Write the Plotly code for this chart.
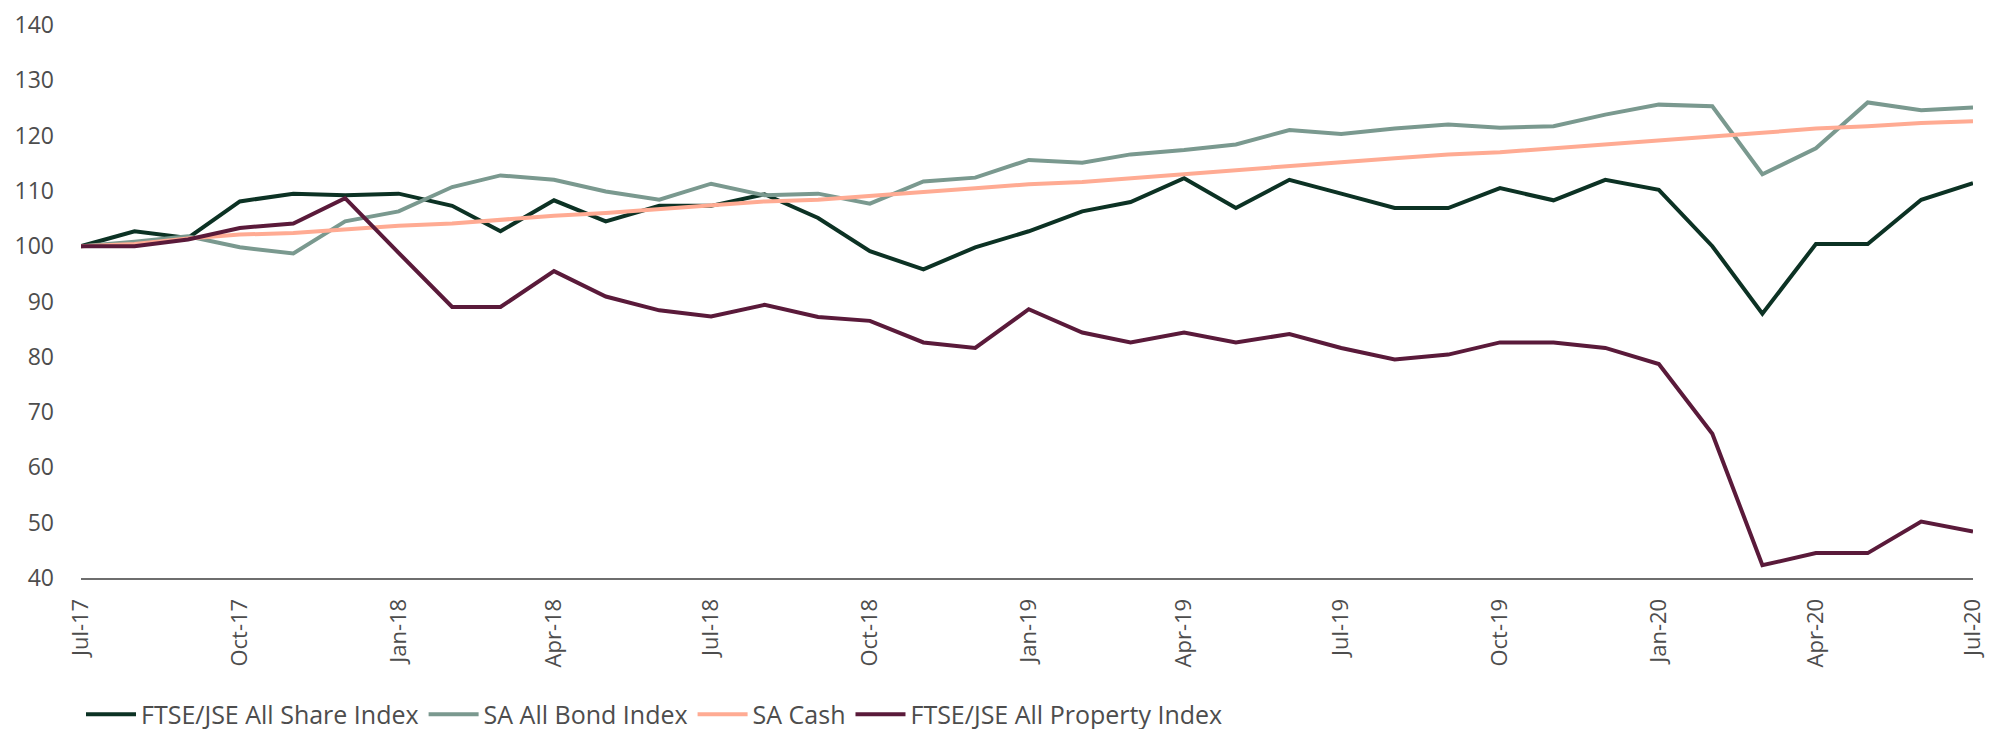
"""
SA asset class performance, rebased to 100 (Jul-17 to Jul-20)
"""

import plotly.graph_objects as go
import pandas as pd

months = pd.date_range("2017-07-01", "2020-07-01", freq="MS")

all_share = [100.0, 102.7, 101.5, 108.1, 109.5, 109.2, 109.5, 107.3, 102.7, 108.3,
             104.5, 107.3, 107.3, 109.4, 105.1, 99.1, 95.8, 99.8, 102.7, 106.3,
             108.0, 112.3, 106.9, 112.0, 109.5, 106.9, 106.9, 110.5, 108.3, 112.0,
             110.2, 100.0, 87.8, 100.4, 100.4, 108.4, 111.4]

all_bond = [100.0, 100.8, 101.8, 99.8, 98.7, 104.5, 106.3, 110.7, 112.8, 112.0,
            109.9, 108.4, 111.3, 109.2, 109.5, 107.7, 111.7, 112.4, 115.6, 115.1,
            116.6, 117.4, 118.4, 121.0, 120.3, 121.3, 122.0, 121.4, 121.7, 123.8,
            125.6, 125.3, 113.0, 117.7, 126.0, 124.6, 125.1]

sa_cash = [100.0, 100.4, 101.4, 102.1, 102.4, 103.1, 103.7, 104.1, 104.8, 105.5,
           106.0, 106.7, 107.4, 108.1, 108.4, 109.0, 109.8, 110.5, 111.2, 111.6,
           112.3, 113.0, 113.7, 114.5, 115.2, 115.9, 116.6, 117.0, 117.7, 118.4,
           119.0, 119.8, 120.5, 121.3, 121.7, 122.3, 122.6]

all_property = [100.0, 100.0, 101.2, 103.3, 104.1, 108.7, 98.8, 89.0, 89.0, 95.5,
                90.9, 88.4, 87.3, 89.4, 87.2, 86.5, 82.6, 81.6, 88.6, 84.4,
                82.6, 84.4, 82.6, 84.1, 81.6, 79.5, 80.4, 82.6, 82.6, 81.6,
                78.7, 66.1, 42.3, 44.5, 44.5, 50.2, 48.4]

series = [
    ("FTSE/JSE All Share Index", all_share, "#0c3224"),
    ("SA All Bond Index", all_bond, "#7a998f"),
    ("SA Cash", sa_cash, "#ffab93"),
    ("FTSE/JSE All Property Index", all_property, "#5a1a3a"),
]

TEXT = "#4d4d4d"
FONT = "Open Sans, Arial, sans-serif"

fig = go.Figure()

for name, values, colour in series:
    fig.add_trace(go.Scatter(
        x=months,
        y=values,
        mode="lines",
        name=name,
        line=dict(color=colour, width=4),
        hovertemplate="%{x|%b-%y}: %{y:.1f}<extra>" + name + "</extra>",
    ))

# page body adds ~8px offset, so margins are shifted up/left to compensate
fig.update_layout(
    width=2009,
    height=729,
    margin=dict(l=73, r=44, t=17, b=159, autoexpand=False),
    plot_bgcolor="white",
    paper_bgcolor="white",
    font=dict(family=FONT, size=23, color=TEXT),
    showlegend=True,
    legend=dict(
        orientation="h",
        x=0.0, xanchor="left",
        yref="container",
        y=0.031, yanchor="middle",
        font=dict(size=25, color=TEXT),
        itemwidth=50,
        tracegroupgap=0,
        bgcolor="rgba(0,0,0,0)",
    ),
    xaxis=dict(
        range=[months[0], months[-1]],
        tickmode="array",
        tickvals=months[::3],
        tickformat="%b-%y",
        tickangle=-90,
        tickfont=dict(size=22, color=TEXT),
        showgrid=False,
        showline=True,
        linecolor="#6e6e6e",
        linewidth=2,
        ticks="",
        ticklabelstandoff=10,
        ticklabeloverflow="allow",
        zeroline=False,
        automargin=False,
    ),
    yaxis=dict(
        range=[40, 140],
        dtick=10,
        tickfont=dict(size=23, color=TEXT),
        showgrid=False,
        showline=False,
        ticks="",
        ticklabelstandoff=26,
        ticklabeloverflow="allow",
        zeroline=False,
        automargin=False,
    ),
)

fig.write_html("out.html")
